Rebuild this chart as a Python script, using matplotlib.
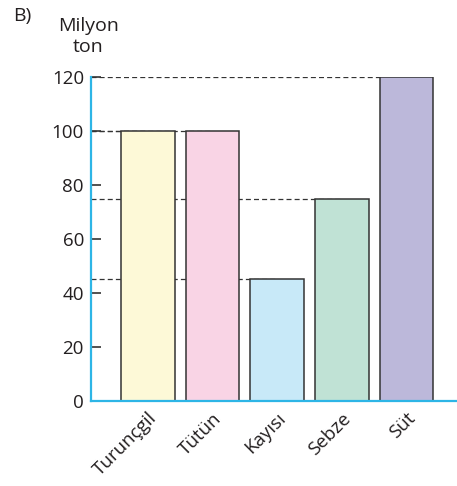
import matplotlib.pyplot as plt
import matplotlib.transforms as mtransforms

urunler = ["Turunçgil", "Tütün", "Kayısı", "Sebze", "Süt"]
miktarlar = [100, 100, 45, 75, 120]
renkler = ["#fdf9d7", "#f9d4e5", "#c8e9f8", "#c0e2d5", "#bcb8da"]
y_ticks = [0, 20, 40, 60, 80, 100, 120]

plt.rcParams['font.family'] = ['Open Sans', 'DejaVu Sans']

fig = plt.figure(figsize=(4.57, 4.86), dpi=100)
ax = fig.add_axes([0.199, 0.175, 0.799, 0.6665])

x = list(range(len(urunler)))
# kesikli yardim cizgileri: eksenden cubuk tepesine
for i, m in enumerate(miktarlar):
    ax.plot([-0.88, i], [m, m], color="#333333", lw=0.9, ls=(0, (4, 2.5)), zorder=1)

ax.bar(x, miktarlar, width=0.83, color=renkler, edgecolor="#333333", linewidth=1.1, zorder=2)

ax.set_xlim(-0.88, 4.77)
ax.set_ylim(0, 120)
ax.set_yticks(y_ticks)
ax.set_xticks(x)
ax.set_xticklabels(urunler, rotation=45, ha="right", rotation_mode="anchor",
                   fontsize=13.5, color="#231f20")
offset = mtransforms.ScaledTranslation(0.17, -0.04, fig.dpi_scale_trans)
for lbl in ax.get_xticklabels():
    lbl.set_transform(lbl.get_transform() + offset)

ax.tick_params(axis="x", length=0, pad=6)
ax.tick_params(axis="y", direction="in", length=7, width=1.2, color="#333333",
               labelsize=13.5, labelcolor="#231f20", pad=5)

for s in ["top", "right"]:
    ax.spines[s].set_visible(False)
for s in ["left", "bottom"]:
    ax.spines[s].set_color("#2db5e6")
    ax.spines[s].set_linewidth(1.6)
ax.spines["left"].set_zorder(3)

fig.text(0.193, 0.925, "Milyon\nton", ha="center", va="center", fontsize=14,
         color="#231f20", linespacing=1.2)
fig.text(0.028, 0.968, "B)", ha="left", va="center", fontsize=14, color="#231f20")

fig.savefig("out.png", dpi=100)
